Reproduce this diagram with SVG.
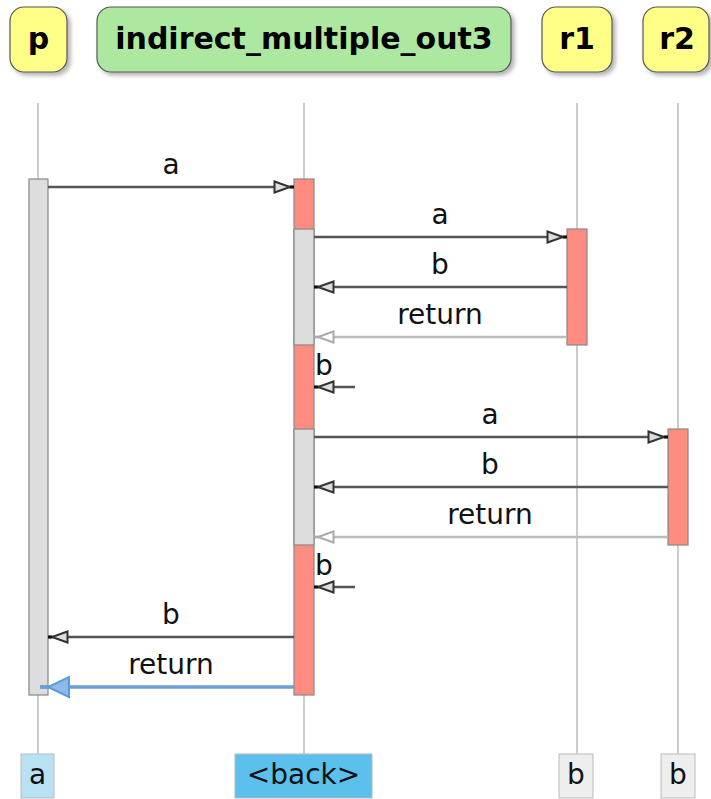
<svg xmlns="http://www.w3.org/2000/svg" width="711" height="799" viewBox="0 0 711 799">
<defs>
<filter id="sh" x="-10%" y="-10%" width="130%" height="140%">
<feDropShadow dx="3" dy="3" stdDeviation="2" flood-color="#000" flood-opacity="0.3"/>
</filter>
<marker id="ah" markerUnits="userSpaceOnUse" markerWidth="24" markerHeight="16" refX="21" refY="7" orient="auto">
<path d="M1.5,1.5 L17,7 L1.5,12.5 Z" fill="#dddddd" stroke="#333333" stroke-width="2"/>
<path d="M17,7 L21,7" stroke="#111" stroke-width="3"/>
</marker>
<marker id="ahr" markerUnits="userSpaceOnUse" markerWidth="24" markerHeight="16" refX="21" refY="7" orient="auto">
<path d="M1.5,1.5 L17,7 L1.5,12.5 Z" fill="#ffffff" stroke="#aaaaaa" stroke-width="2"/>
<path d="M17,7 L21,7" stroke="#aaaaaa" stroke-width="2.5"/>
</marker>
<marker id="ahb" markerUnits="userSpaceOnUse" markerWidth="34" markerHeight="26" refX="31" refY="12" orient="auto">
<path d="M2,2 L23,12 L2,22 Z" fill="#8fb9e6" stroke="#5a9be0" stroke-width="2"/>
<path d="M23,12 L31,12" stroke="#6a9fd8" stroke-width="3.5"/>
</marker>
</defs>
<style>
.head{stroke:#555;stroke-width:1.2;filter:url(#sh)}
.ht{font-family:"DejaVu Sans",sans-serif;font-weight:bold;font-size:30px;fill:#000;text-anchor:middle}
.life{stroke:#cccccc;stroke-width:2}
.act{stroke:#888;stroke-width:1.2}
.g{fill:#dddddd}
.r{fill:#ff8c80}
.msg{stroke:#555555;stroke-width:2.5;fill:none}
.ret{stroke:#bbbbbb;stroke-width:2.5;fill:none}
.mt{font-family:"DejaVu Sans",sans-serif;font-size:28px;fill:#111;text-anchor:middle}
.ft{font-family:"DejaVu Sans",sans-serif;font-size:28px;fill:#111;text-anchor:middle}
.foot{stroke:#bbb;stroke-width:1}
</style>
<rect width="711" height="799" fill="#ffffff"/>

<g id="lifelines">
<line class="life" x1="38" y1="103" x2="38" y2="754"/>
<line class="life" x1="304" y1="103" x2="304" y2="754"/>
<line class="life" x1="577" y1="103" x2="577" y2="754"/>
<line class="life" x1="678" y1="103" x2="678" y2="754"/>
</g>

<g id="p">
<rect class="head" x="10" y="7" width="57" height="65" rx="14" fill="#ffff88"/>
<text class="ht" x="38.5" y="49">p</text>
</g>
<g id="indirect_multiple_out3">
<rect class="head" x="97" y="7" width="414" height="65" rx="14" fill="#ade8a0"/>
<text class="ht" x="304" y="49">indirect_multiple_out3</text>
</g>
<g id="r1">
<rect class="head" x="542" y="7" width="70" height="65" rx="14" fill="#ffff88"/>
<text class="ht" x="577" y="49">r1</text>
</g>
<g id="r2">
<rect class="head" x="643" y="7" width="66" height="65" rx="14" fill="#ffff88"/>
<text class="ht" x="677" y="49">r2</text>
</g>

<g id="activations">
<rect class="act g" x="29" y="179" width="19" height="516"/>
<rect class="act r" x="294" y="179" width="20" height="516"/>
<rect class="act g" x="294" y="229" width="20" height="116"/>
<rect class="act g" x="294" y="429" width="20" height="116"/>
<rect class="act r" x="567" y="229" width="20" height="116"/>
<rect class="act r" x="668" y="429" width="20" height="116"/>
</g>

<g id="connectors">
<line class="msg" x1="48" y1="187" x2="294" y2="187" marker-end="url(#ah)"/>
<text class="mt" x="171" y="174">a</text>
<line class="msg" x1="314" y1="237" x2="567" y2="237" marker-end="url(#ah)"/>
<text class="mt" x="440" y="224">a</text>
<line class="msg" x1="567" y1="287" x2="314" y2="287" marker-end="url(#ah)"/>
<text class="mt" x="440" y="274">b</text>
<line class="ret" x1="567" y1="337" x2="314" y2="337" marker-end="url(#ahr)"/>
<text class="mt" x="440" y="324">return</text>
<line class="msg" x1="355" y1="387" x2="314" y2="387" marker-end="url(#ah)"/>
<text class="mt" x="315" y="375" style="text-anchor:start">b</text>
<line class="msg" x1="314" y1="437" x2="668" y2="437" marker-end="url(#ah)"/>
<text class="mt" x="490" y="424">a</text>
<line class="msg" x1="668" y1="487" x2="314" y2="487" marker-end="url(#ah)"/>
<text class="mt" x="490" y="474">b</text>
<line class="ret" x1="668" y1="537" x2="314" y2="537" marker-end="url(#ahr)"/>
<text class="mt" x="490" y="524">return</text>
<line class="msg" x1="355" y1="587" x2="314" y2="587" marker-end="url(#ah)"/>
<text class="mt" x="315" y="575" style="text-anchor:start">b</text>
<line class="msg" x1="294" y1="637" x2="48" y2="637" marker-end="url(#ah)"/>
<text class="mt" x="171" y="624">b</text>
<line x1="294" y1="687" x2="40" y2="687" stroke="#6a9fd8" stroke-width="3.5" marker-end="url(#ahb)"/>
<text class="mt" x="171" y="674">return</text>
</g>

<g id="foot_a">
<rect class="foot" x="21" y="754" width="33" height="44" fill="#b8e2f4"/>
<text class="ft" x="37.5" y="784">a</text>
</g>
<g id="foot_back">
<rect class="foot" x="235" y="754" width="137" height="44" fill="#5bc0eb"/>
<text class="ft" x="303.5" y="784">&lt;back&gt;</text>
</g>
<g id="foot_b1">
<rect class="foot" x="559" y="754" width="34" height="44" fill="#eeeeee"/>
<text class="ft" x="576" y="784">b</text>
</g>
<g id="foot_b2">
<rect class="foot" x="661" y="754" width="34" height="44" fill="#eeeeee"/>
<text class="ft" x="678" y="784">b</text>
</g>
</svg>
